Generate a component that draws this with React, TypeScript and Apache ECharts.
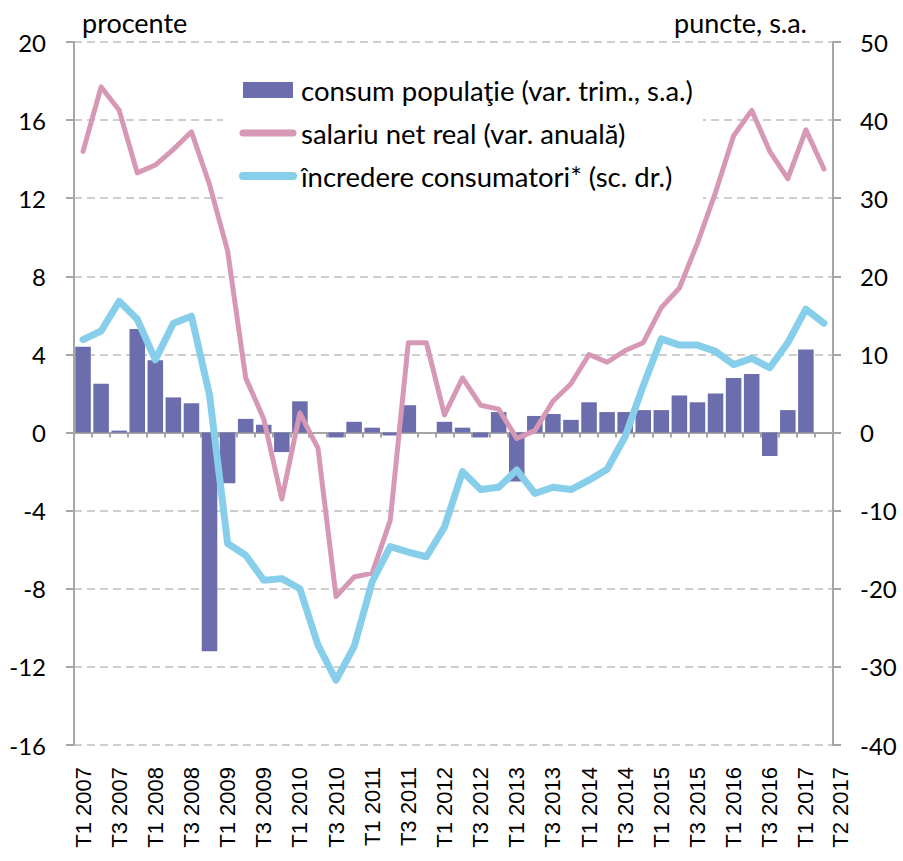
import React, { useEffect, useRef } from 'react';
import * as echarts from 'echarts';

const categories: string[] = [
  'T1 2007', 'T2 2007', 'T3 2007', 'T4 2007',
  'T1 2008', 'T2 2008', 'T3 2008', 'T4 2008',
  'T1 2009', 'T2 2009', 'T3 2009', 'T4 2009',
  'T1 2010', 'T2 2010', 'T3 2010', 'T4 2010',
  'T1 2011', 'T2 2011', 'T3 2011', 'T4 2011',
  'T1 2012', 'T2 2012', 'T3 2012', 'T4 2012',
  'T1 2013', 'T2 2013', 'T3 2013', 'T4 2013',
  'T1 2014', 'T2 2014', 'T3 2014', 'T4 2014',
  'T1 2015', 'T2 2015', 'T3 2015', 'T4 2015',
  'T1 2016', 'T2 2016', 'T3 2016', 'T4 2016',
  'T1 2017', 'T2 2017',
];

// consum populaţie (var. trim., s.a.) - procente, left axis
const consumPopulatie: (number | null)[] = [
  4.4, 2.5, 0.1, 5.3, 3.7, 1.8, 1.5, -11.2, -2.6, 0.7,
  0.4, -1.0, 1.6, 0.0, -0.25, 0.55, 0.25, -0.15, 1.4, 0.0,
  0.55, 0.25, -0.25, 1.05, -2.5, 0.85, 0.95, 0.65, 1.55, 1.05,
  1.05, 1.15, 1.15, 1.9, 1.55, 2.0, 2.8, 3.0, -1.2, 1.15,
  4.25, null,
];

// salariu net real (var. anuală) - procente, left axis
const salariuNetReal: number[] = [
  14.4, 17.7, 16.5, 13.3, 13.7, 14.5, 15.4, 12.7, 9.3, 2.8,
  0.7, -3.4, 1.0, -0.8, -8.4, -7.4, -7.2, -4.5, 4.6, 4.6,
  0.9, 2.8, 1.4, 1.2, -0.3, 0.1, 1.6, 2.5, 4.0, 3.6,
  4.2, 4.6, 6.4, 7.4, 9.7, 12.3, 15.2, 16.5, 14.4, 13.0,
  15.5, 13.5,
];

// încredere consumatori* (sc. dr.) - puncte, s.a., right axis
const incredereConsumatori: number[] = [
  11.9, 13.0, 16.8, 14.5, 9.3, 14.0, 14.9, 4.8, -14.2, -15.7,
  -18.9, -18.7, -20.0, -27.2, -31.7, -27.4, -19.1, -14.6, -15.3, -15.9,
  -12.1, -5.0, -7.3, -7.0, -4.8, -7.8, -7.0, -7.3, -6.1, -4.7,
  -0.5, 6.0, 12.0, 11.2, 11.2, 10.4, 8.7, 9.5, 8.3, 11.5,
  15.8, 14.0,
];

const seriesNames = [
  'consum populaţie (var. trim., s.a.)',
  'salariu net real (var. anuală)',
  'încredere consumatori* (sc. dr.)',
];

const leftAxisName = 'procente';
const rightAxisName = 'puncte, s.a.';

const FONT = 'Lato';
const AXIS_GRAY = '#A6A6A6';
const GRID_GRAY = '#BFBFBF';
const BAR_COLOR = '#6C6DAD';
const PINK = '#D698B5';
const BLUE = '#87CEEB';

export default function App() {
  const ref = useRef<HTMLDivElement>(null);

  useEffect(() => {
    if (!ref.current) return;
    const chart = echarts.init(ref.current, undefined, { renderer: 'svg' });
    const lastIdx = categories.length - 1;

    const option: any = {
      animation: false,
      backgroundColor: '#fff',
      grid: { left: 74, right: 70, top: 42, bottom: 116, containLabel: false },
      legend: {
        orient: 'vertical',
        left: 223,
        top: 60,
        backgroundColor: '#fff',
        padding: [15, 10, 15, 16],
        itemGap: 13,
        itemWidth: 50,
        itemHeight: 16,
        textStyle: {
          fontFamily: FONT,
          fontSize: 27.5,
          color: '#000',
          lineHeight: 30,
          padding: [0, 0, 0, 3],
        },
        data: [
          { name: seriesNames[0], icon: 'rect' },
          { name: seriesNames[1], lineStyle: { width: 7, cap: 'round' }, itemStyle: { opacity: 0 } },
          { name: seriesNames[2], lineStyle: { width: 8, cap: 'round' }, itemStyle: { opacity: 0 } },
        ],
      },
      xAxis: [
        {
          type: 'category',
          data: categories,
          position: 'bottom',
          boundaryGap: true,
          axisLine: { show: false, onZero: false },
          axisTick: { show: false },
          splitLine: { show: false },
          axisLabel: {
            interval: (i: number) => i % 2 === 0 && i !== lastIdx,
            showMinLabel: true,
            showMaxLabel: true,
            rotate: 90,
            margin: 22,
            fontFamily: 'Liberation Sans',
            fontSize: 22,
            color: '#000',
          },
        },
        {
          type: 'category',
          data: categories,
          position: 'bottom',
          boundaryGap: true,
          axisLine: { show: true, onZero: true, lineStyle: { color: AXIS_GRAY, width: 2 } },
          axisTick: { show: true, interval: 0, length: 5, lineStyle: { color: AXIS_GRAY, width: 2 } },
          axisLabel: { show: false },
          splitLine: { show: false },
        },
      ],
      yAxis: [
        {
          type: 'value',
          position: 'left',
          min: -16,
          max: 20,
          interval: 4,
          name: leftAxisName,
          nameLocation: 'end',
          nameGap: 6,
          nameTextStyle: {
            fontFamily: FONT,
            fontSize: 27,
            color: '#000',
            align: 'left',
            padding: [0, 0, 0, 8],
          },
          axisLine: { show: true, lineStyle: { color: AXIS_GRAY, width: 2 } },
          axisTick: { show: true, length: 8, lineStyle: { color: AXIS_GRAY, width: 2 } },
          axisLabel: { fontFamily: FONT, fontSize: 24, color: '#000', margin: 28 },
          splitLine: { show: true, lineStyle: { color: GRID_GRAY, width: 1.5, type: [8, 5] } },
        },
        {
          type: 'value',
          position: 'right',
          min: -40,
          max: 50,
          interval: 10,
          name: rightAxisName,
          nameLocation: 'end',
          nameGap: 6,
          nameTextStyle: {
            fontFamily: FONT,
            fontSize: 27,
            color: '#000',
            align: 'right',
            padding: [0, 26, 0, 0],
          },
          axisLine: { show: true, lineStyle: { color: AXIS_GRAY, width: 2 } },
          axisTick: { show: true, length: 8, lineStyle: { color: AXIS_GRAY, width: 2 } },
          axisLabel: { fontFamily: FONT, fontSize: 24, color: '#000', margin: 27 },
          splitLine: { show: false },
        },
      ],
      graphic: [
        {
          type: 'text',
          x: 840,
          y: 767,
          rotation: Math.PI / 2,
          style: {
            text: categories[lastIdx],
            align: 'right',
            verticalAlign: 'middle',
            fontFamily: 'Liberation Sans',
            fontSize: 22,
            fill: '#000',
          },
        },
      ],
      series: [
        {
          name: seriesNames[0],
          type: 'bar',
          xAxisIndex: 0,
          yAxisIndex: 0,
          data: consumPopulatie,
          barCategoryGap: '14%',
          itemStyle: { color: BAR_COLOR },
          z: 2,
        },
        {
          name: seriesNames[1],
          type: 'line',
          xAxisIndex: 0,
          yAxisIndex: 0,
          data: salariuNetReal,
          symbol: 'none',
          lineStyle: { color: PINK, width: 5, cap: 'round', join: 'round' },
          itemStyle: { color: PINK },
          z: 3,
        },
        {
          name: seriesNames[2],
          type: 'line',
          xAxisIndex: 0,
          yAxisIndex: 1,
          data: incredereConsumatori,
          symbol: 'none',
          lineStyle: { color: BLUE, width: 7, cap: 'round', join: 'round' },
          itemStyle: { color: BLUE },
          z: 4,
        },
      ],
    };

    chart.setOption(option);
    return () => chart.dispose();
  }, []);

  return (
    <div
      ref={ref}
      style={{ position: 'fixed', left: 0, top: 0, width: 903, height: 861, background: '#fff' }}
    />
  );
}
